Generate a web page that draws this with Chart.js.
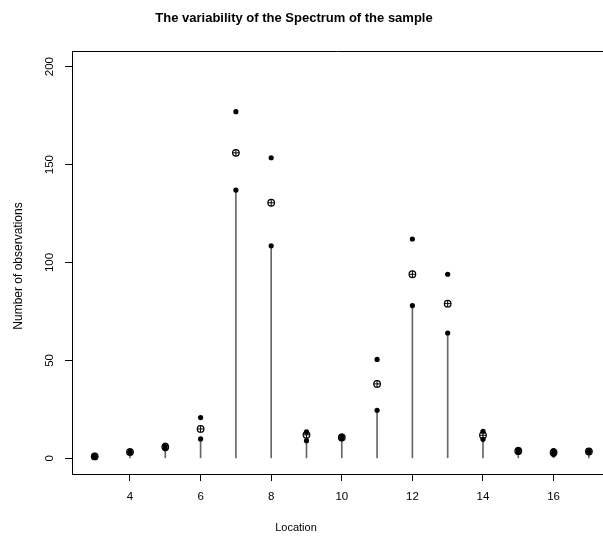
<!DOCTYPE html>
<html>
<head>
<meta charset="utf-8">
<script src="https://cdn.jsdelivr.net/npm/chart.js@4"></script>
<style>
  html, body { margin: 0; padding: 0; background: #fff; overflow: hidden; }
  canvas { display: block; }
</style>
</head>
<body>
<canvas id="spectrumChart" width="603" height="537"></canvas>
<script>
// values
const locations = [3, 4, 5, 6, 7, 8, 9, 10, 11, 12, 13, 14, 15, 16, 17];
const lowerValues = [0.5, 2.8, 4.9, 9.9, 137, 108.5, 9, 10, 24.5, 78, 64, 9.7, 3, 2, 3.2];
const meanValues = [1, 3.2, 5.8, 15, 156, 130.5, 12, 10.7, 38, 94, 79, 11.8, 3.8, 3, 3.5];
const upperValues = [1.5, 3.8, 6.7, 20.8, 177, 153.5, 13.5, 11.4, 50.5, 112, 94, 13.8, 4.6, 4, 3.8];
const xTicks = [4, 6, 8, 10, 12, 14, 16];
const yTicks = [0, 50, 100, 150, 200];

const chartTitle = "The variability of the Spectrum of the sample";
const xTitle = "Location";
const yTitle = "Number of observations";

const fontFamily = "'Liberation Sans', Arial, Helvetica, sans-serif";

function toPoints(values) {
  return locations.map((loc, i) => ({ x: loc, y: values[i] }));
}

// title, axis captions and the top side of the frame
const captionPlugin = {
  id: "captions",
  afterDraw(chart) {
    const ctx = chart.ctx;
    const area = chart.chartArea;
    ctx.save();
    ctx.fillStyle = "#000";
    ctx.textAlign = "center";
    ctx.textBaseline = "middle";
    ctx.font = "bold 13px " + fontFamily;
    ctx.fillText(chartTitle, 294, 18);
    ctx.font = "11px " + fontFamily;
    ctx.fillText(xTitle, 296, 528);
    ctx.save();
    ctx.translate(19, 266);
    ctx.rotate(-Math.PI / 2);
    ctx.font = "12px " + fontFamily;
    ctx.fillText(yTitle, 0, 0);
    ctx.restore();
    ctx.strokeStyle = "#000";
    ctx.lineWidth = 1;
    ctx.beginPath();
    ctx.moveTo(area.left, area.top + 0.5);
    ctx.lineTo(chart.width, area.top + 0.5);
    ctx.stroke();
    ctx.restore();
  },
};

const spectrumChart = new Chart(document.getElementById("spectrumChart"), {
  type: "scatter",
  data: {
    datasets: [
      {
        type: "bar",
        label: "stem",
        data: toPoints(lowerValues),
        backgroundColor: "#666",
        barThickness: 1,
        order: 5,
      },
      {
        label: "lower",
        data: toPoints(lowerValues),
        pointStyle: "circle",
        pointRadius: 2.6,
        backgroundColor: "#000",
        borderColor: "#000",
        borderWidth: 0,
        order: 1,
      },
      {
        label: "upper",
        data: toPoints(upperValues),
        pointStyle: "circle",
        pointRadius: 2.6,
        backgroundColor: "#000",
        borderColor: "#000",
        borderWidth: 0,
        order: 1,
      },
      {
        label: "mean",
        data: toPoints(meanValues),
        pointStyle: "circle",
        pointRadius: 3.3,
        backgroundColor: "#fff",
        borderColor: "#000",
        borderWidth: 1.2,
        order: 2,
      },
      {
        label: "mean cross",
        data: toPoints(meanValues),
        pointStyle: "cross",
        pointRadius: 3.5,
        borderColor: "#000",
        borderWidth: 1,
        order: 0,
      },
    ],
  },
  options: {
    responsive: false,
    animation: false,
    layout: {
      autoPadding: false,
      padding: { top: 51, left: 0, right: 0, bottom: 0 },
    },
    plugins: {
      legend: { display: false },
      title: { display: false },
      tooltip: { enabled: false },
    },
    scales: {
      x: {
        type: "linear",
        offset: false,
        min: 2.357,
        max: 17.4,
        afterBuildTicks: (scale) => {
          scale.ticks = xTicks.map((v) => ({ value: v }));
        },
        afterFit: (scale) => {
          scale.height = 63;
          scale.paddingRight = 0;
        },
        grid: {
          offset: false,
          drawOnChartArea: false,
          drawTicks: true,
          tickLength: 7,
          color: "#000",
        },
        border: { display: true, color: "#000", width: 1 },
        ticks: {
          color: "#000",
          padding: 9,
          maxRotation: 0,
          font: { family: fontFamily, size: 11.5 },
        },
      },
      y: {
        type: "linear",
        min: -8,
        max: 208,
        afterBuildTicks: (scale) => {
          scale.ticks = yTicks.map((v) => ({ value: v }));
        },
        afterFit: (scale) => {
          scale.width = 72;
        },
        grid: {
          drawOnChartArea: false,
          drawTicks: true,
          tickLength: 7,
          color: "#000",
        },
        border: { display: true, color: "#000", width: 1 },
        ticks: {
          color: "#000",
          padding: 5.5,
          crossAlign: "center",
          minRotation: 90,
          maxRotation: 90,
          font: { family: fontFamily, size: 11.5 },
        },
      },
    },
  },
  plugins: [captionPlugin],
});
</script>
</body>
</html>
